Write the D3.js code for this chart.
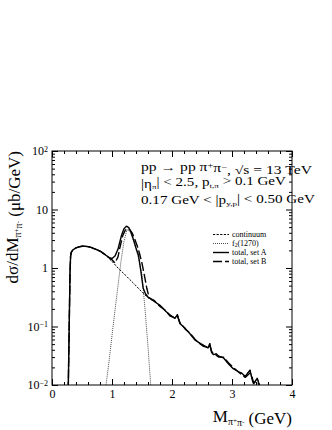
<!DOCTYPE html>
<html>
<head>
<meta charset="utf-8">
<script src="https://d3js.org/d3.v7.min.js"></script>
<style>
body { margin: 0; background: #fff; }
text { font-family: "Liberation Serif", "DejaVu Serif", serif; fill: #000; }
</style>
</head>
<body>
<svg id="chart" width="332" height="430"></svg>
<script>
// invariant mass (GeV) and dsigma/dM (ub/GeV)
var massLow  = [0.270, 0.272, 0.30, 0.31, 0.32, 0.35, 0.40, 0.45, 0.50, 0.55, 0.60, 0.65, 0.70, 0.75, 0.80, 0.85, 0.90];
var sigmaLow = [0.005, 0.01, 0.8, 1.6, 1.85, 2.05, 2.2, 2.3, 2.35, 2.35, 2.32, 2.25, 2.15, 2.05, 1.95, 1.8, 1.65];

var massPeakA  = [0.95, 1.00, 1.05, 1.10, 1.16, 1.20, 1.24, 1.28, 1.32, 1.36, 1.40, 1.44, 1.48, 1.52, 1.56, 1.60];
var sigmaPeakA = [1.52, 1.45, 1.6, 2.1, 3.66, 4.7, 5.2, 4.9, 4.0, 3.0, 2.2, 1.67, 0.9, 0.45, 0.36, 0.32];

var massPeakB  = [0.95, 1.00, 1.05, 1.10, 1.13, 1.18, 1.22, 1.26, 1.30, 1.34, 1.38, 1.42, 1.46, 1.50, 1.54, 1.58, 1.62];
var sigmaPeakB = [1.5, 1.38, 1.22, 1.55, 2.2, 3.6, 4.4, 4.75, 4.5, 3.9, 3.1, 2.4, 1.75, 1.2, 0.75, 0.45, 0.31];

var massContMid  = [0.95, 1.00, 1.10, 1.22, 1.35, 1.52, 1.60];
var sigmaContMid = [1.45, 1.3, 1.0, 0.76, 0.56, 0.37, 0.31];

var massTail   = [1.70, 1.80, 1.90, 1.97, 2.05, 2.09, 2.13, 2.22, 2.30, 2.38, 2.45, 2.52, 2.60, 2.63, 2.66, 2.69, 2.74, 2.78, 2.86, 2.94, 3.02, 3.10, 3.16, 3.22, 3.30, 3.34, 3.36, 3.42, 3.47, 3.52];
var sigmaTailA = [0.27, 0.23, 0.18, 0.157, 0.138, 0.16, 0.113, 0.093, 0.075, 0.059, 0.053, 0.048, 0.043, 0.051, 0.036, 0.033, 0.034, 0.031, 0.029, 0.023, 0.019, 0.017, 0.016, 0.014, 0.018, 0.012, 0.0105, 0.013, 0.009, 0.006];
var sigmaTailB = [0.28, 0.22, 0.185, 0.15, 0.14, 0.15, 0.118, 0.09, 0.077, 0.061, 0.052, 0.046, 0.044, 0.047, 0.038, 0.034, 0.032, 0.03, 0.03, 0.024, 0.02, 0.017, 0.015, 0.0135, 0.016, 0.013, 0.011, 0.0115, 0.0095, 0.007];

var massF2  = [0.88, 0.90, 0.95, 1.00, 1.05, 1.10, 1.15, 1.20, 1.25, 1.30, 1.35, 1.40, 1.45, 1.50, 1.55, 1.60, 1.645, 1.66];
var sigmaF2 = [0.005, 0.01, 0.025, 0.07, 0.19, 0.5, 1.3, 2.9, 4.5, 4.2, 3.1, 2.1, 1.35, 0.75, 0.2, 0.045, 0.01, 0.005];

var xTicks = [0, 1, 2, 3, 4];
var yTicks = [0.01, 0.1, 1, 10, 100];
var yTickLabels = [["10", "\u22122"], ["10", "\u22121"], ["1", ""], ["10", ""], ["10", "2"]];

function pts(m, s) { return m.map(function(v, i) { return [v, s[i]]; }); }

var curves = [
  { name: "continuum", data: pts(massLow, sigmaLow).concat(pts(massContMid, sigmaContMid), pts(massTail, sigmaTailA)), width: 1, dash: "2.2,1.4" },
  { name: "f2", data: pts(massF2, sigmaF2), width: 0.7, dash: "1,1" },
  { name: "total, set A", data: pts(massLow, sigmaLow).concat(pts(massPeakA, sigmaPeakA), pts(massTail, sigmaTailA)), width: 1.4, dash: null },
  { name: "total, set B", data: pts(massLow, sigmaLow).concat(pts(massPeakB, sigmaPeakB), pts(massTail, sigmaTailB)), width: 1.4, dash: "9,3" }
];

var svg = d3.select("#chart");
var L = 52, R = 292, T = 151, B = 385;

var x = d3.scaleLinear().domain([0, 4]).range([L, R]);
var y = d3.scaleLog().domain([0.01, 100]).range([B, T]);

var xMinor = d3.range(0, 4.01, 0.2).filter(function(v) { return Math.abs(v - Math.round(v)) > 1e-6; });
var yMinor = [];
[0.01, 0.1, 1, 10].forEach(function(d) { for (var k = 2; k <= 9; k++) yMinor.push(d * k); });

svg.append("clipPath").attr("id", "plot").append("rect")
  .attr("x", L).attr("y", T).attr("width", R - L).attr("height", B - T);

// ticks (inward, mirrored on all four sides)
function drawAxis(axisFn, scale, major, minor, transform) {
  svg.append("g").attr("transform", transform)
    .call(axisFn(scale).tickValues(minor).tickSizeInner(-3).tickSizeOuter(0).tickFormat(""))
    .call(function(g) { g.select(".domain").remove(); });
  return svg.append("g").attr("transform", transform)
    .call(axisFn(scale).tickValues(major).tickSizeInner(-6).tickSizeOuter(0).tickPadding(4.5).tickFormat(d3.format("d")))
    .call(function(g) { g.select(".domain").remove(); });
}

var xAxis = drawAxis(d3.axisBottom, x, xTicks, xMinor, "translate(0," + B + ")");
xAxis.selectAll("text").attr("font-size", "12px");
drawAxis(d3.axisTop, x, xTicks, xMinor, "translate(0," + T + ")").selectAll("text").remove();

var yAxis = drawAxis(d3.axisLeft, y, yTicks, yMinor, "translate(" + L + ",0)");
yAxis.selectAll(".tick text").each(function(d) {
  var t = d3.select(this).text(null).attr("font-size", "12px").attr("x", -4);
  var lab = yTickLabels[yTicks.indexOf(d)];
  t.append("tspan").text(lab[0]);
  if (lab[1]) t.append("tspan").attr("dy", "-0.45em").attr("font-size", "8px").text(lab[1]);
});
drawAxis(d3.axisRight, y, yTicks, yMinor, "translate(" + R + ",0)").selectAll("text").remove();

svg.selectAll(".tick line").attr("stroke", "#000").attr("stroke-width", 1);

svg.append("rect").attr("x", L).attr("y", T).attr("width", R - L).attr("height", B - T)
  .attr("fill", "none").attr("stroke", "#000").attr("stroke-width", 1);

// curves
var line = d3.line().x(function(d) { return x(d[0]); }).y(function(d) { return y(d[1]); });
svg.append("g").attr("clip-path", "url(#plot)").selectAll("path")
  .data(curves).join("path")
  .attr("d", function(d) { return line(d.data); })
  .attr("fill", "none").attr("stroke", "#000")
  .attr("stroke-width", function(d) { return d.width; })
  .attr("stroke-dasharray", function(d) { return d.dash; })
  .attr("stroke-linejoin", "round");

// legend
var leg = svg.append("g").selectAll("g").data(curves).join("g")
  .attr("transform", function(d, i) { return "translate(0," + (234.5 + i * 9) + ")"; });
leg.append("line").attr("x1", 213).attr("x2", 229).attr("y1", 0).attr("y2", 0)
  .attr("stroke", "#000").attr("stroke-width", function(d) { return d.width; })
  .attr("stroke-dasharray", function(d) { return d.dash; });
leg.append("text").attr("x", 232).attr("y", 2.6).attr("font-size", "8px").each(function(d) {
  var t = d3.select(this);
  if (d.name === "f2") {
    t.append("tspan").text("f");
    t.append("tspan").attr("dy", "0.2em").attr("font-size", "5.5px").text("2");
    t.append("tspan").attr("dy", "-0.2em").text("(1270)");
  } else t.text(d.name);
});

// header (the picture draws it wider than the font's own advance)
var head = svg.append("g").attr("font-size", "11.5px");
var h1 = head.append("text").attr("data-y", 171).attr("data-w", 172);
h1.append("tspan").text("pp \u2192 pp \u03c0");
h1.append("tspan").attr("dy", "-0.35em").attr("font-size", "7.5px").text("+");
h1.append("tspan").attr("dy", "0.35em").text("\u03c0");
h1.append("tspan").attr("dy", "-0.35em").attr("font-size", "7.5px").text("\u2212");
h1.append("tspan").attr("dy", "0.35em").text(",  \u221as = 13 TeV");

var h2 = head.append("text").attr("data-y", 187.5).attr("data-w", 146);
h2.append("tspan").text("|\u03b7");
h2.append("tspan").attr("dy", "0.25em").attr("font-size", "7px").text("\u03c0");
h2.append("tspan").attr("dy", "-0.25em").text("| < 2.5,  p");
h2.append("tspan").attr("dy", "0.25em").attr("font-size", "7px").text("t,\u03c0");
h2.append("tspan").attr("dy", "-0.25em").text(" > 0.1 GeV");

var h3 = head.append("text").attr("data-y", 204).attr("data-w", 175);
h3.append("tspan").text("0.17 GeV < |p");
h3.append("tspan").attr("dy", "0.25em").attr("font-size", "7px").text("y,p");
h3.append("tspan").attr("dy", "-0.25em").text("| < 0.50 GeV");

head.selectAll("text").each(function() {
  var t = d3.select(this);
  var w = this.getBBox().width;
  var sx = +t.attr("data-w") / w;
  t.attr("transform", "translate(141," + t.attr("data-y") + ") scale(" + sx + ",1)");
});

// axis titles
var xt = svg.append("text").attr("x", R).attr("y", 422).attr("text-anchor", "end").attr("font-size", "17px");
xt.append("tspan").text("M");
xt.append("tspan").attr("dy", "0.3em").attr("font-size", "10px").text("\u03c0");
xt.append("tspan").attr("dy", "-0.35em").attr("font-size", "7px").text("+");
xt.append("tspan").attr("dy", "0.35em").attr("font-size", "10px").text("\u03c0");
xt.append("tspan").attr("dy", "-0.35em").attr("font-size", "7px").text("-");
xt.append("tspan").attr("dy", "0.05em").text(" (GeV)");

var yt = svg.append("text").attr("transform", "translate(18," + T + ") rotate(-90)")
  .attr("text-anchor", "end").attr("font-size", "17px");
yt.append("tspan").text("d\u03c3/dM");
yt.append("tspan").attr("dy", "0.3em").attr("font-size", "10px").text("\u03c0");
yt.append("tspan").attr("dy", "-0.35em").attr("font-size", "7px").text("+");
yt.append("tspan").attr("dy", "0.35em").attr("font-size", "10px").text("\u03c0");
yt.append("tspan").attr("dy", "-0.35em").attr("font-size", "7px").text("-");
yt.append("tspan").attr("dy", "0.05em").text(" (\u03bcb/GeV)");
</script>
</body>
</html>
